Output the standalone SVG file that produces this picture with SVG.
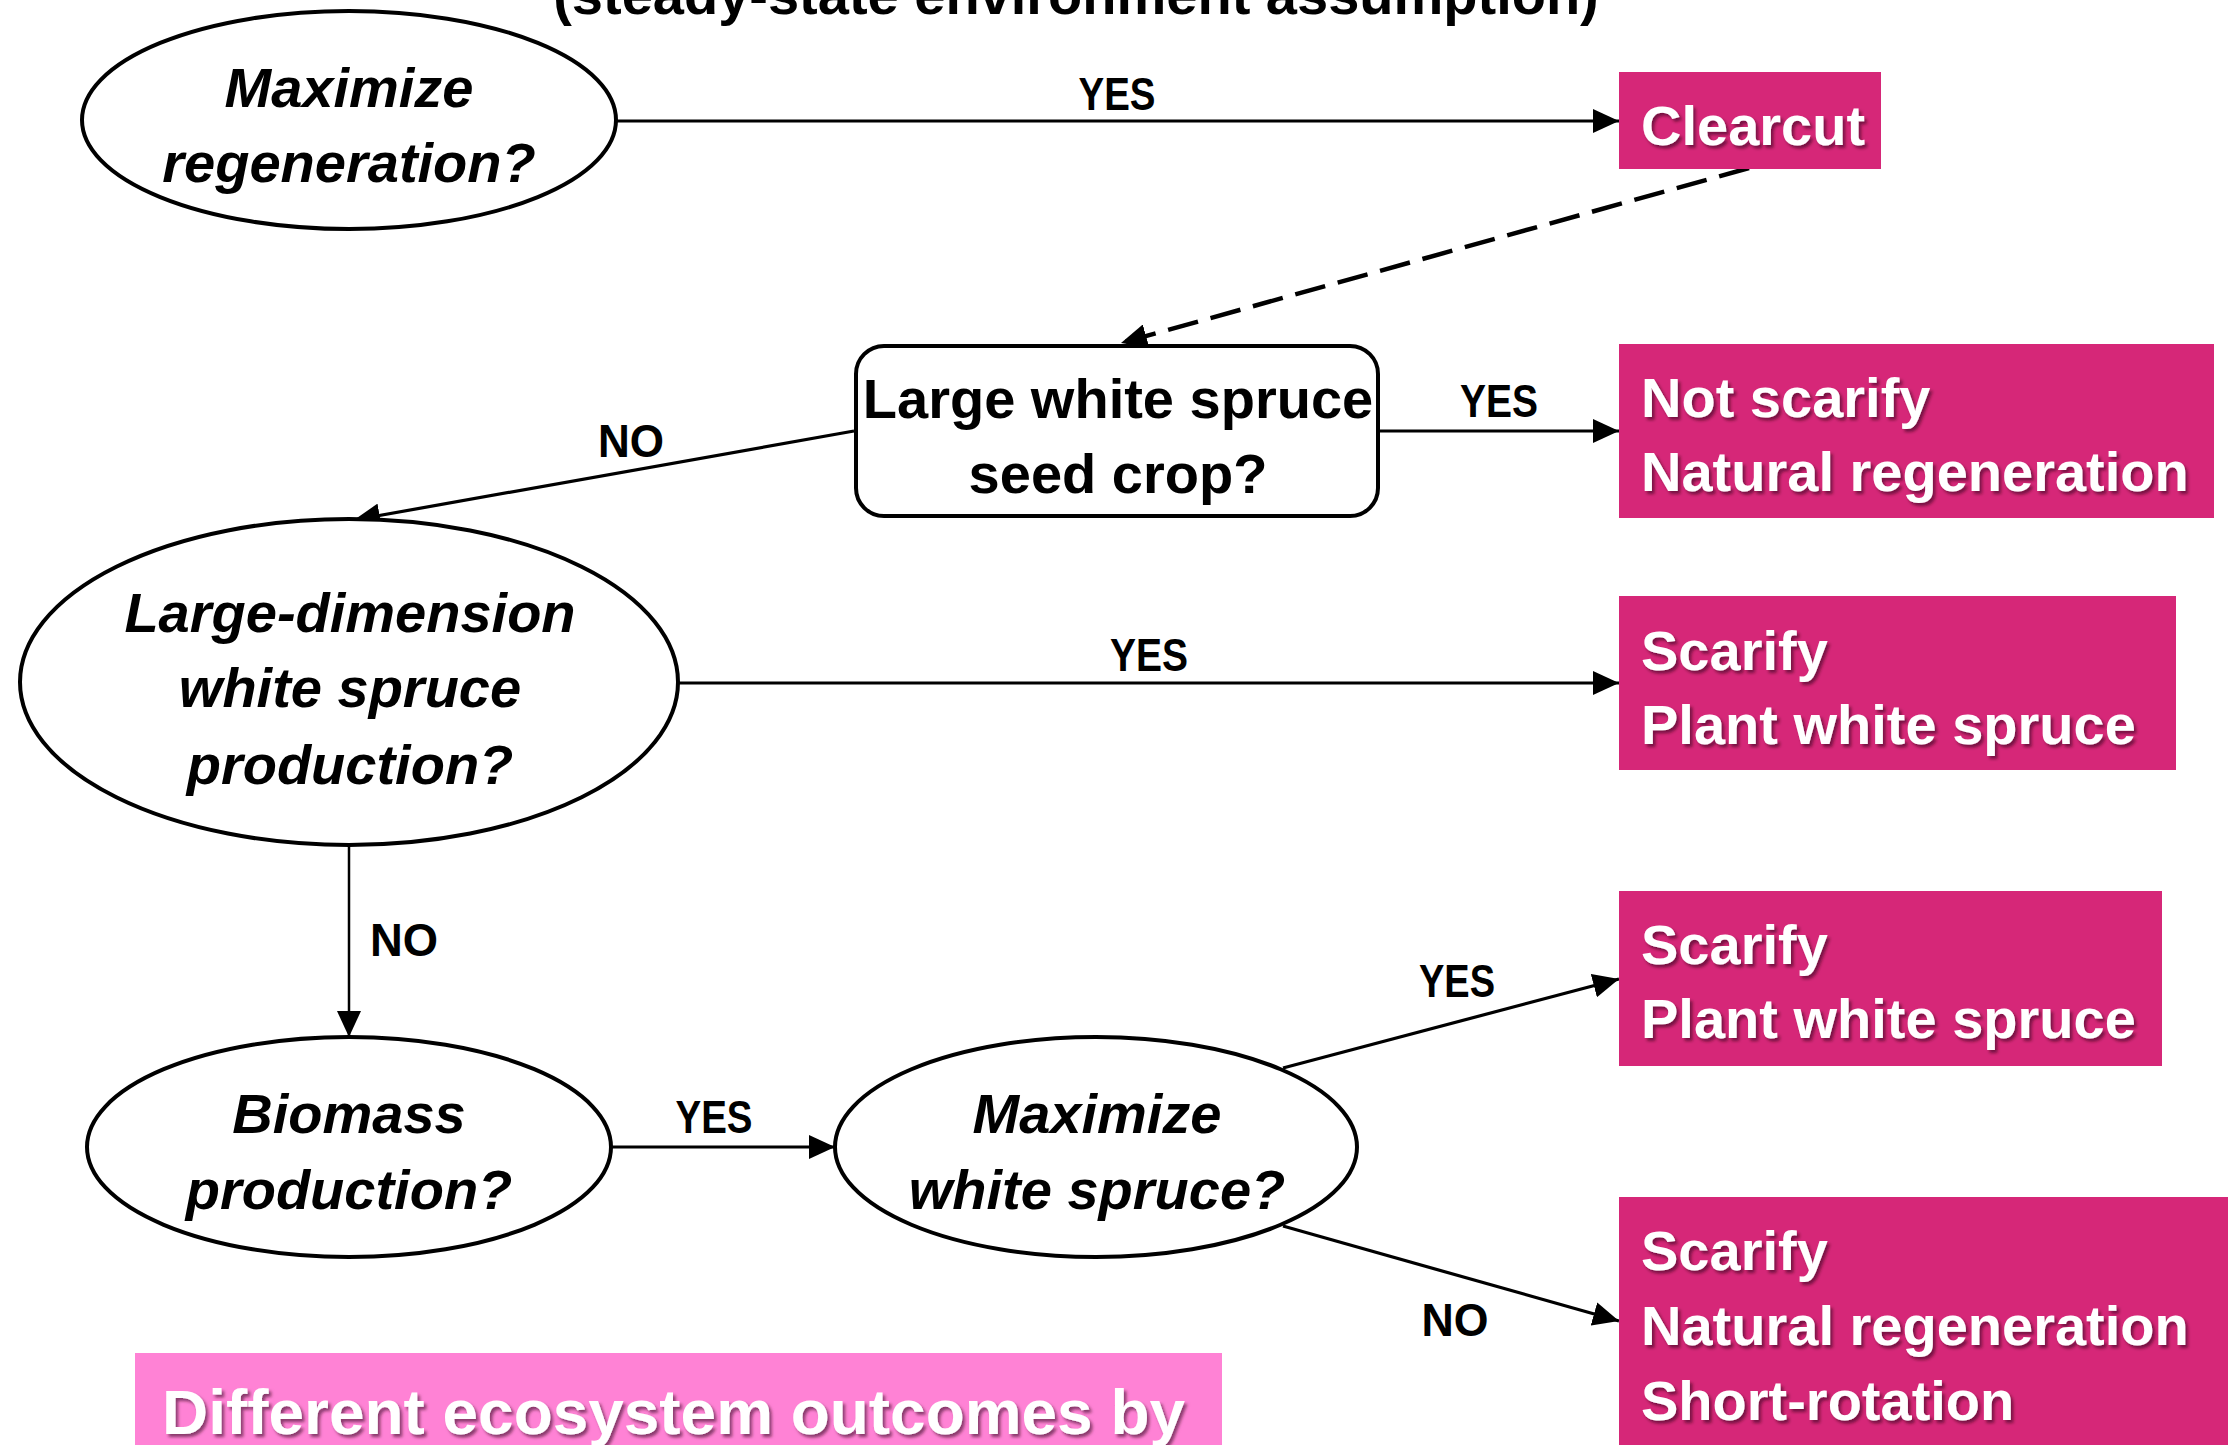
<svg xmlns="http://www.w3.org/2000/svg" width="2231" height="1445" viewBox="0 0 2231 1445">
<defs>
<marker id="arr" markerUnits="userSpaceOnUse" markerWidth="26" markerHeight="24" refX="26" refY="12" orient="auto">
<path d="M0,0 L26,12 L0,24 Z" fill="#000"/>
</marker>
<filter id="sh" x="-10%" y="-20%" width="120%" height="150%">
<feDropShadow dx="2.5" dy="3" stdDeviation="1.5" flood-color="#2a0018" flood-opacity="0.55"/>
</filter>
<style>
.q{fill:#fff;stroke:#000;stroke-width:4}
.qt{font-family:"Liberation Sans",Arial,sans-serif;font-weight:bold;font-style:italic;font-size:56px;fill:#000;text-anchor:middle}
.rt{font-family:"Liberation Sans",Arial,sans-serif;font-weight:bold;font-size:56px;fill:#000;text-anchor:middle}
.box{fill:#D62778}
.bt{font-family:"Liberation Sans",Arial,sans-serif;font-weight:bold;font-size:56px;fill:#fff;filter:url(#sh)}
.lbl{font-family:"Liberation Sans",Arial,sans-serif;font-weight:bold;font-size:47px;fill:#000;text-anchor:middle}
.c{fill:none;stroke:#000;stroke-width:3.2;marker-end:url(#arr)}
.dash{stroke-width:4.5;stroke-dasharray:31 13}
.thin{stroke-width:2.5}
</style>
</defs>
<rect width="2231" height="1445" fill="#fff"/>
<text x="1076" y="14" class="rt">(steady-state environment assumption)</text>

<g id="connectors">
<line class="c" x1="617" y1="121" x2="1619" y2="121"/>
<line class="c dash" x1="1749" y1="168" x2="1121" y2="343"/>
<line class="c" x1="1380" y1="431" x2="1619" y2="431"/>
<line class="c" x1="854" y1="431" x2="354" y2="520"/>
<line class="c" x1="679" y1="683" x2="1619" y2="683"/>
<line class="c thin" x1="349" y1="845" x2="349" y2="1037"/>
<line class="c" x1="612" y1="1147" x2="835" y2="1147"/>
<line class="c" x1="1283" y1="1068" x2="1619" y2="979"/>
<line class="c" x1="1283" y1="1226" x2="1619" y2="1321"/>
<text class="lbl" x="1117" y="110" textLength="77" lengthAdjust="spacingAndGlyphs">YES</text>
<text class="lbl" x="1499" y="417" textLength="78" lengthAdjust="spacingAndGlyphs">YES</text>
<text class="lbl" x="631" y="457" textLength="66" lengthAdjust="spacingAndGlyphs">NO</text>
<text class="lbl" x="1149" y="671" textLength="78" lengthAdjust="spacingAndGlyphs">YES</text>
<text class="lbl" x="404" y="956" textLength="68" lengthAdjust="spacingAndGlyphs">NO</text>
<text class="lbl" x="714" y="1133" textLength="77" lengthAdjust="spacingAndGlyphs">YES</text>
<text class="lbl" x="1457" y="997" textLength="76" lengthAdjust="spacingAndGlyphs">YES</text>
<text class="lbl" x="1455" y="1336" textLength="67" lengthAdjust="spacingAndGlyphs">NO</text>
</g>

<g id="maximize-regeneration">
<ellipse class="q" cx="349" cy="120" rx="267" ry="109"/>
<text class="qt" x="349" y="107">Maximize</text>
<text class="qt" x="349" y="182">regeneration?</text>
</g>

<g id="clearcut">
<rect class="box" x="1619" y="72" width="262" height="97"/>
<text class="bt" x="1641" y="145">Clearcut</text>
</g>

<g id="seed-crop">
<rect class="q" x="856" y="346" width="522" height="170" rx="28"/>
<text class="rt" x="1118" y="418">Large white spruce</text>
<text class="rt" x="1118" y="493">seed crop?</text>
</g>

<g id="not-scarify">
<rect class="box" x="1619" y="344" width="595" height="174"/>
<text class="bt" x="1641" y="417">Not scarify</text>
<text class="bt" x="1641" y="491">Natural regeneration</text>
</g>

<g id="large-dimension">
<ellipse class="q" cx="349" cy="682" rx="329" ry="163"/>
<text class="qt" x="350" y="632">Large-dimension</text>
<text class="qt" x="350" y="707">white spruce</text>
<text class="qt" x="350" y="784">production?</text>
</g>

<g id="scarify-plant-1">
<rect class="box" x="1619" y="596" width="557" height="174"/>
<text class="bt" x="1641" y="670">Scarify</text>
<text class="bt" x="1641" y="744">Plant white spruce</text>
</g>

<g id="biomass">
<ellipse class="q" cx="349" cy="1147" rx="262" ry="110"/>
<text class="qt" x="349" y="1133">Biomass</text>
<text class="qt" x="349" y="1209">production?</text>
</g>

<g id="maximize-white-spruce">
<ellipse class="q" cx="1096" cy="1147" rx="261" ry="110"/>
<text class="qt" x="1097" y="1133">Maximize</text>
<text class="qt" x="1097" y="1209">white spruce?</text>
</g>

<g id="scarify-plant-2">
<rect class="box" x="1619" y="891" width="543" height="175"/>
<text class="bt" x="1641" y="964">Scarify</text>
<text class="bt" x="1641" y="1038">Plant white spruce</text>
</g>

<g id="scarify-natural">
<rect class="box" x="1619" y="1197" width="609" height="260"/>
<text class="bt" x="1641" y="1270">Scarify</text>
<text class="bt" x="1641" y="1345">Natural regeneration</text>
<text class="bt" x="1641" y="1420">Short-rotation</text>
</g>

<g id="outcomes-note">
<rect x="135" y="1353" width="1087" height="110" fill="#FF82D5"/>
<text class="bt" x="162" y="1434" textLength="1023" lengthAdjust="spacingAndGlyphs" style="font-size:63px">Different ecosystem outcomes by</text>
</g>
</svg>
